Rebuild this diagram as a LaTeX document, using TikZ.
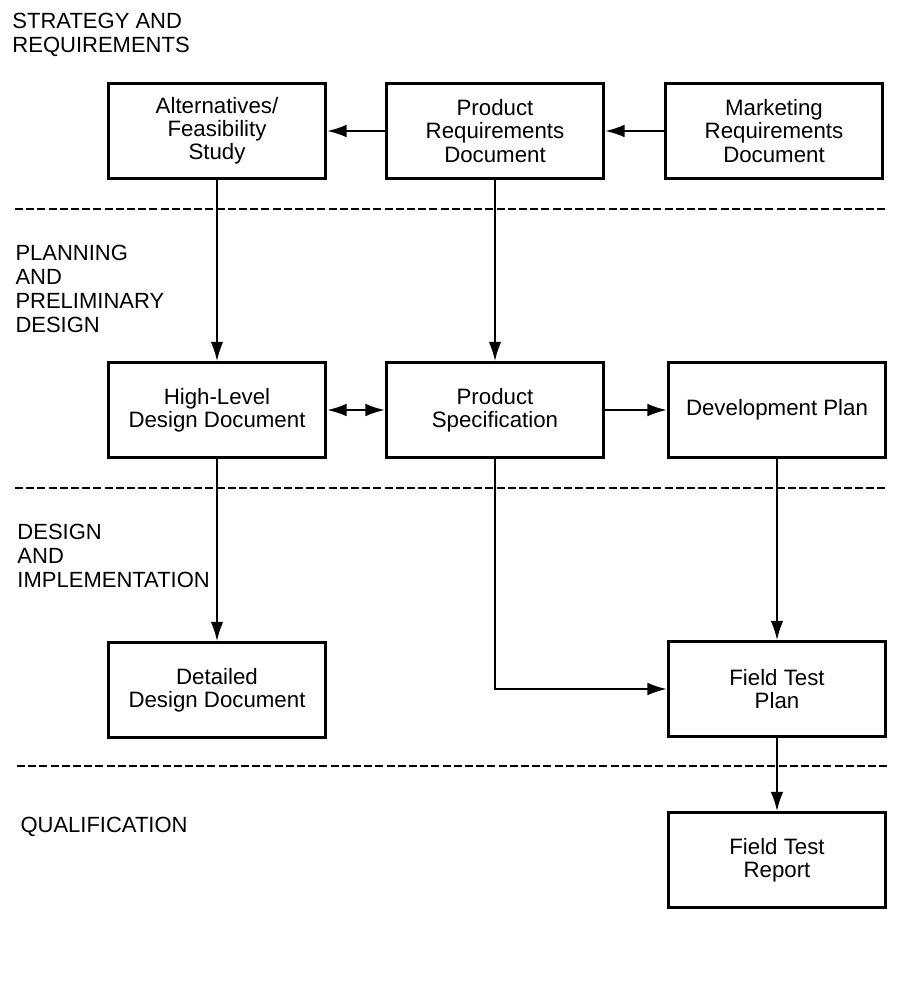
\documentclass[tikz,border=0pt]{standalone}
\usepackage{fontspec}
\setmainfont{Liberation Sans}
\usetikzlibrary{arrows.meta}

\tikzset{every picture/.style={line width=0.75pt}}
\tikzset{
  docbox/.style={draw, line width=2.3pt, minimum width=163pt, minimum height=71pt, align=center, inner sep=2pt, font=\fontsize{16.7}{17.3}\selectfont},
  phase/.style={anchor=north west, inner sep=0pt, align=left, font=\fontsize{16.5}{18}\selectfont},
  flow/.style={line width=1.5pt, -{Latex[length=14.5pt,width=9.5pt]}},
  stage line/.style={line width=1.8pt, dash pattern={on 6pt off 2.4pt}}
}

\begin{document}
\begin{tikzpicture}[x=0.75pt,y=0.75pt,yscale=-1,xscale=1]
	%set diagram size
	\useasboundingbox (0,0) rectangle (920,986);

	% Text Node
	\node[phase] (strat) at (12,13) {STRATEGY AND\\REQUIREMENTS};
	% Text Node
	\node[phase] (plan) at (15,245) {PLANNING\\AND\\PRELIMINARY\\DESIGN};
	% Text Node
	\node[phase] (impl) at (17,524) {DESIGN\\AND\\IMPLEMENTATION};
	% Text Node
	\node[phase] (qual) at (20,817) {QUALIFICATION};

	%Straight Lines
	\draw[stage line] (15,209) -- (885,209);
	\draw[stage line] (15,488) -- (886,488);
	\draw[stage line] (17,766) -- (888,766);

	%Shape: Rectangle
	\node[docbox] (alt) at (217,131) {Alternatives/\\Feasibility\\Study};
	\node[docbox] (prd) at (495,131) {Product\\Requirements\\Document};
	\node[docbox] (mrd) at (774,131) {Marketing\\Requirements\\Document};
	\node[docbox] (hld) at (217,410) {High-Level\\Design Document};
	\node[docbox] (spec) at (495,410) {Product\\Specification};
	\node[docbox] (dev) at (777,410) {Development Plan};
	\node[docbox] (ddd) at (217,690) {Detailed\\Design Document};
	\node[docbox] (ftp) at (777,689) {Field Test\\Plan};
	\node[docbox] (ftr) at (777,860) {Field Test\\Report};

	%Straight Lines
	\draw[flow] (mrd) -- (prd);
	\draw[flow] (prd) -- (alt);
	\draw[flow] (alt) -- (hld);
	\draw[flow] (prd) -- (spec);
	\draw[flow, {Latex[length=14.5pt,width=9.5pt]}-{Latex[length=14.5pt,width=9.5pt]}] (hld) -- (spec);
	\draw[flow] (spec) -- (dev);
	\draw[flow] (hld) -- (ddd);
	\draw[flow] (dev) -- (ftp);
	\draw[flow] (spec.south) |- (ftp.west);
	\draw[flow] (ftp) -- (ftr);

\end{tikzpicture}
\end{document}
